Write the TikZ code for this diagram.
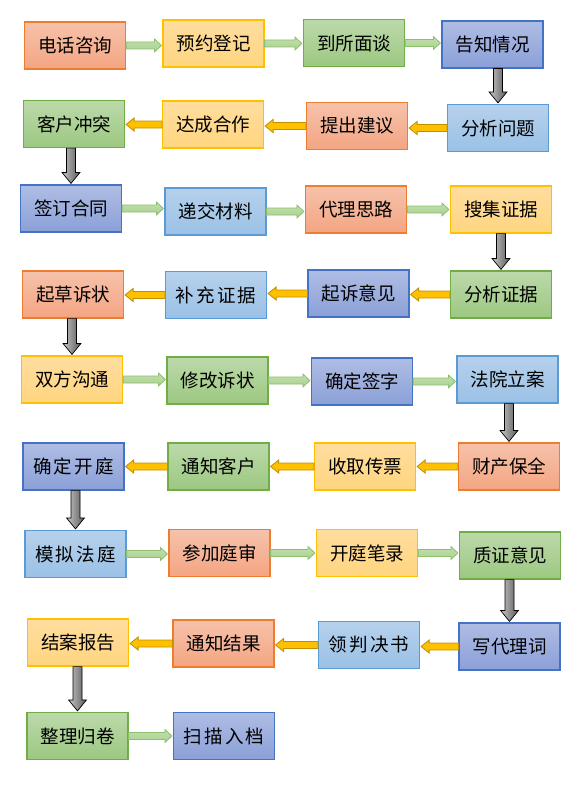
\documentclass[tikz,border=0pt]{standalone}
\usepackage{fontspec}
\usepackage{tikz}
\usetikzlibrary{calc}
\newfontfamily\cjk{Noto Sans CJK SC}

\definecolor{orgline}{HTML}{ED7D31}\definecolor{orgtop}{HTML}{F6C2AB}\definecolor{orgbot}{HTML}{F4A582}
\definecolor{yelline}{HTML}{FFC000}\definecolor{yeltop}{HTML}{FFDD9F}\definecolor{yelbot}{HTML}{FFD57F}
\definecolor{grnline}{HTML}{70AD47}\definecolor{grntop}{HTML}{BCD9AA}\definecolor{grnbot}{HTML}{9CC881}
\definecolor{dblline}{HTML}{4472C4}\definecolor{dbltop}{HTML}{AFBDE4}\definecolor{dblbot}{HTML}{8BA0D8}
\definecolor{lblline}{HTML}{5B9BD5}\definecolor{lbltop}{HTML}{B6D1EC}\definecolor{lblbot}{HTML}{9AC1E6}
\definecolor{garrowfill}{HTML}{A9D18E}\definecolor{garrowline}{HTML}{8CBF6E}
\definecolor{yarrowfill}{HTML}{FFC000}\definecolor{yarrowline}{HTML}{BF9000}

\tikzset{
  box/.style={line width=1.2pt, minimum width=101pt, minimum height=47pt, inner sep=0pt,
    font=\cjk\fontsize{18.5}{19}\selectfont},
  org/.style={box, draw=orgline, top color=orgtop, bottom color=orgbot},
  yel/.style={box, draw=yelline, top color=yeltop, bottom color=yelbot},
  grn/.style={box, draw=grnline, top color=grntop, bottom color=grnbot},
  dbl/.style={box, draw=dblline, top color=dbltop, bottom color=dblbot},
  lbl/.style={box, draw=lblline, top color=lbltop, bottom color=lblbot},
  spaced/.style={font=\cjk\fontsize{18.5}{19}\selectfont\addfontfeature{LetterSpace=11}},
  garrow/.style={draw=garrowline, line width=0.8pt, top color=garrowfill!70!white, bottom color=garrowfill},
  yarrow/.style={draw=yarrowline, line width=0.8pt, fill=yarrowfill},
  darrow/.style={draw=black, line width=0.7pt, left color=gray!45, right color=black!65}
}

\newcommand{\rarrow}[2]{\draw[garrow] let \p1=(#1.east), \p2=(#2.west) in
  (\x1,\y1+3.5) -- (\x2-8,\y1+3.5) -- (\x2-8,\y1+6.5) -- (\x2-1,\y1) -- (\x2-8,\y1-6.5)
  -- (\x2-8,\y1-3.5) -- (\x1,\y1-3.5) -- cycle;}
\newcommand{\larrow}[2]{\draw[yarrow] let \p1=(#1.west), \p2=(#2.east) in
  (\x1,\y1+3.5) -- (\x2+9,\y1+3.5) -- (\x2+9,\y1+6.5) -- (\x2+1,\y1) -- (\x2+9,\y1-6.5)
  -- (\x2+9,\y1-3.5) -- (\x1,\y1-3.5) -- cycle;}
\newcommand{\darrow}[2]{\draw[darrow] let \p1=(#1.south), \p2=(#2.north) in
  (\x2-4.5,\y1) -- (\x2-4.5,\y2+12) -- (\x2-9,\y2+12) -- (\x2,\y2+1) -- (\x2+9,\y2+12)
  -- (\x2+4.5,\y2+12) -- (\x2+4.5,\y1) -- cycle;}

\begin{document}
\begin{tikzpicture}[x=1pt,y=-1pt]
  \useasboundingbox (0,0) rectangle (576,792);

  \node[org] (A1) at (75,45.5) {电话咨询};
  \node[yel] (A2) at (213.5,43.5) {预约登记};
  \node[grn] (A3) at (354,43) {到所面谈};
  \node[dbl] (A4) at (492.5,44.5) {告知情况};

  \node[grn] (B1) at (74,124) {客户冲突};
  \node[yel] (B2) at (213,124.5) {达成合作};
  \node[org] (B3) at (357,126) {提出建议};
  \node[lbl] (B4) at (498,128) {分析问题};

  \node[dbl] (C1) at (71,208.5) {签订合同};
  \node[lbl] (C2) at (215.5,211.5) {递交材料};
  \node[org] (C3) at (356,209.5) {代理思路};
  \node[yel] (C4) at (501,209.5) {搜集证据};

  \node[org] (D1) at (73,294.5) {起草诉状};
  \node[lbl,spaced] (D2) at (216,295) {补充证据};
  \node[dbl] (D3) at (358.5,293.5) {起诉意见};
  \node[grn] (D4) at (501,294.5) {分析证据};

  \node[yel] (E1) at (72,379.5) {双方沟通};
  \node[grn] (E2) at (217.5,380.5) {修改诉状};
  \node[dbl] (E3) at (362,381.5) {确定签字};
  \node[lbl] (E4) at (507.5,379.5) {法院立案};

  \node[dbl,spaced] (F1) at (73.5,466.5) {确定开庭};
  \node[grn] (F2) at (218.5,466.5) {通知客户};
  \node[yel] (F3) at (365,466.5) {收取传票};
  \node[org] (F4) at (509,466.5) {财产保全};

  \node[lbl,spaced] (G1) at (75.5,554) {模拟法庭};
  \node[org] (G2) at (219.5,553) {参加庭审};
  \node[yel] (G3) at (367,553) {开庭笔录};
  \node[grn] (G4) at (510,555.5) {质证意见};

  \node[yel] (H1) at (78,642.5) {结案报告};
  \node[org] (H2) at (223.5,643.5) {通知结果};
  \node[lbl,spaced] (H3) at (369,645) {领判决书};
  \node[dbl] (H4) at (509.5,646.5) {写代理词};

  \node[grn] (I1) at (77.5,736) {整理归卷};
  \node[dbl,spaced] (I2) at (224,736) {扫描入档};

  \foreach \a/\b in {A1/A2,A2/A3,A3/A4,C1/C2,C2/C3,C3/C4,E1/E2,E2/E3,E3/E4,G1/G2,G2/G3,G3/G4,I1/I2}
    \rarrow{\a}{\b};
  \foreach \a/\b in {B4/B3,B3/B2,B2/B1,D4/D3,D3/D2,D2/D1,F4/F3,F3/F2,F2/F1,H4/H3,H3/H2,H2/H1}
    \larrow{\a}{\b};
  \foreach \a/\b in {A4/B4,B1/C1,C4/D4,D1/E1,E4/F4,F1/G1,G4/H4,H1/I1}
    \darrow{\a}{\b};
\end{tikzpicture}
\end{document}
